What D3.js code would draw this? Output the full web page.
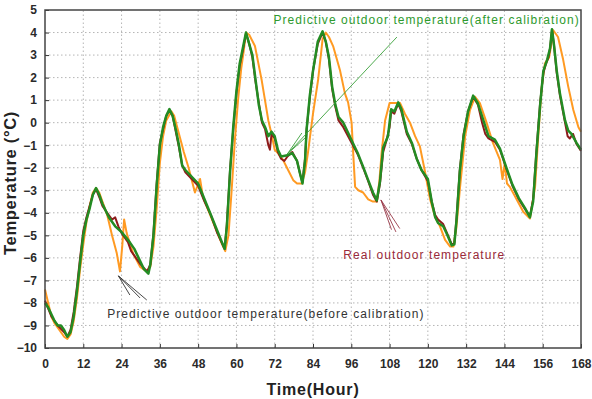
<!DOCTYPE html>
<html>
<head>
<meta charset="utf-8">
<script src="https://cdn.jsdelivr.net/npm/d3@7"></script>
<style>
  body { margin: 0; background: #fff; }
  text { font-family: Arial, "Liberation Sans", sans-serif; }
</style>
</head>
<body>
<div id="chart"></div>
<script>
// tick labels
const xTicks = [0, 12, 24, 36, 48, 60, 72, 84, 96, 108, 120, 132, 144, 156, 168];
const yTicks = [-10, -9, -8, -7, -6, -5, -4, -3, -2, -1, 0, 1, 2, 3, 4, 5];

// predictive outdoor temperature (before calibration) - orange
const beforeHours = [0,1,2,3,4,5,6,7,8,9,10,11,12,13,14,15,16,17,18,19.5,21,22.5,23.5,24.2,24.8,25.6,27.6,29.8,31.9,33,34,35,36,37,38,39.6,40.5,42,43.5,45,47,48.6,49.5,51.5,53.5,55.5,56.5,57.5,58.5,59.5,60.5,61.5,62.3,63,64,65.8,67.9,70,71,72,73,74.6,76.2,77.8,79,80.5,81.5,82.4,84,85.6,87,88,89,90.3,92.5,94,95,96.1,96.6,97.2,98.2,99.7,101.3,102.8,104,104.8,105.5,106.6,108,109.6,111.3,112.8,114.4,116,117.5,119,120.7,122.3,123.8,125.4,127,128,128.9,130.1,131.7,133.2,134.8,136.3,138.4,140.4,142.6,143.4,144.1,144.8,145.7,147.8,149.9,152,153.6,154.6,155.7,156.7,158,158.6,159.3,160.8,162.4,164,165.6,167.2,168];
const beforeTemp = [-7.4,-8.0,-8.6,-8.9,-9.1,-9.3,-9.5,-9.6,-9.4,-8.8,-7.8,-6.5,-5.4,-4.4,-3.7,-3.1,-2.9,-3.1,-3.5,-4.1,-5.0,-5.8,-6.6,-5.5,-4.3,-4.9,-5.8,-6.4,-6.6,-6.4,-5.5,-3.8,-1.8,-0.6,0.1,0.5,0.3,-0.5,-1.3,-2.0,-3.1,-2.5,-3.3,-4.0,-4.7,-5.4,-5.7,-5.0,-3.0,-0.8,1.0,2.4,3.2,4.0,3.9,3.4,1.9,0.1,-0.5,-1.2,-1.35,-1.65,-2.1,-2.55,-2.7,-2.7,-2.2,-1.35,0.4,1.9,3.7,4.0,3.8,3.4,2.3,1.3,0.9,0.0,-1.35,-2.85,-3.0,-3.1,-3.4,-3.5,-3.5,-2.6,-1.35,0.1,0.87,0.87,0.87,0.4,0.0,-0.6,-1.05,-2.1,-3.4,-4.2,-4.6,-5.2,-5.5,-5.5,-4.7,-2.85,-0.6,0.56,1.15,0.87,0.0,-0.9,-1.65,-2.5,-1.8,-2.7,-2.85,-3.4,-3.95,-4.25,-2.85,-0.6,1.6,2.63,2.9,3.4,4.1,3.8,2.8,1.6,0.56,-0.2,-0.4];

// real outdoor temperature - dark red
const realHours = [0,2,4,6,7,8,9,10,11,12,13,14,15,16,17,18,20,21,22,23,24,26,27,28,30,32,33,34,35,36,37,38,39,40,41,42,43,44,46,48,50,52,54,56.3,57,58,59,60,61,62,63,64,65,66,67,68,69,70,70.5,71,72,73,74,75,76,77.5,79,80,80.7,81.5,82,83,84,85.5,87,88,89,90,91,92,93.5,95,96.5,98,99.7,101.3,102.8,104,105,106,107,108,108.5,109.5,110.7,111.7,113.4,115,116.5,118,120,121.2,122.3,123.2,124.8,126,127.5,128.3,129,130,131.2,132.6,134.2,135.7,137,138,139,141,142.6,144.5,146.5,148.5,150.5,152,153,154,155.2,156.2,157,157.8,158.3,158.9,159.5,160.4,161.4,163,163.8,164.5,165.5,166.6,168];
const realTemp = [-7.9,-8.6,-9.0,-9.3,-9.5,-9.2,-8.4,-7.3,-6.0,-4.8,-4.2,-3.7,-3.2,-2.95,-3.3,-3.7,-4.1,-4.3,-4.2,-4.6,-4.9,-5.3,-5.7,-5.9,-6.3,-6.6,-6.3,-4.9,-2.7,-0.9,-0.3,0.3,0.55,0.3,-0.4,-1.1,-1.9,-2.2,-2.5,-2.8,-3.5,-4.1,-4.9,-5.6,-4.5,-2.1,-0.3,1.3,2.5,3.2,3.95,3.5,2.9,1.8,0.9,0.0,-0.3,-1.0,-1.2,-0.5,-0.7,-1.3,-1.6,-1.7,-1.5,-1.3,-1.7,-2.3,-2.65,-1.6,-0.3,1.1,2.3,3.5,4.0,3.6,2.8,1.5,0.7,0.1,-0.2,-0.6,-1.0,-1.4,-2.0,-2.6,-3.2,-3.5,-2.7,-1.3,-0.8,-0.2,0.5,0.4,0.85,0.5,-0.5,-0.95,-1.6,-2.1,-2.6,-3.5,-4.1,-4.3,-4.5,-4.9,-5.4,-5.35,-4.2,-2.1,-0.5,0.5,1.15,0.8,0.0,-0.5,-0.7,-0.85,-1.2,-2.0,-2.8,-3.4,-3.85,-4.15,-3.4,-1.3,0.9,2.2,2.6,2.9,3.3,4.1,3.5,2.2,1.2,0.0,-0.6,-0.7,-0.5,-0.95,-1.25];

// predictive outdoor temperature (after calibration) - green
const afterHours = [0,1,2,3,4,5,6,7,8,9,10,11,12,13,14,15,16,17,18,20,22,24,26,28,30,31,32.4,33,34,35,36,37,38,39,40,41,42,43,44,46,48,50,52,54,56.3,57,58,59,60,61,62,63,64,65,66,67,68,69,70,71,72,73,74,76,77.5,79,80,80.7,81.5,82,83,84,85.5,87,88,89,90,91,92,93.5,95,96.5,98,99.7,101.3,102.8,104,105,106,107.5,108.5,109.5,110.7,111.7,113.4,115,116.5,118,120,121.2,122.3,123.2,124.8,126,127.5,128.3,129,130,131.2,132.6,134.2,135.7,137.4,139,141,142.6,144.5,146.5,148.5,150.5,152,153,154,155.2,156.2,157.4,158.3,158.9,159.5,160.4,161.4,163,164,165,166.6,168];
const afterTemp = [-8.0,-8.2,-8.5,-8.8,-9.0,-9.0,-9.2,-9.5,-9.3,-8.6,-7.5,-6.2,-5.0,-4.3,-3.8,-3.2,-2.9,-3.2,-3.6,-4.2,-4.6,-4.85,-5.2,-5.6,-6.2,-6.5,-6.7,-6.3,-5.0,-2.8,-1.0,-0.2,0.3,0.6,0.3,-0.3,-1.0,-1.9,-2.1,-2.4,-2.7,-3.4,-4.1,-4.8,-5.6,-4.6,-2.2,-0.2,1.4,2.6,3.3,4.0,3.5,3.0,1.9,0.8,0.1,-0.2,-0.6,-0.4,-0.6,-1.2,-1.5,-1.45,-1.35,-1.7,-2.3,-2.7,-1.7,-0.3,1.2,2.3,3.6,4.05,3.6,2.9,1.6,0.8,0.25,0.0,-0.45,-0.9,-1.35,-1.95,-2.55,-3.1,-3.45,-2.6,-1.1,-0.6,0.6,0.5,0.9,0.6,-0.4,-0.9,-1.6,-2.1,-2.5,-3.5,-4.2,-4.45,-4.6,-4.95,-5.45,-5.4,-4.3,-2.2,-0.6,0.5,1.2,0.85,0.1,-0.6,-0.75,-1.15,-1.95,-2.75,-3.35,-3.8,-4.2,-3.5,-1.4,0.8,2.3,2.8,3.3,4.15,3.5,2.3,1.3,0.1,-0.35,-0.5,-0.9,-1.2];

const series = [
  {name: "before", hours: beforeHours, temp: beforeTemp, color: "#ff9a22", width: 2},
  {name: "real", hours: realHours, temp: realTemp, color: "#8e1b1b", width: 2},
  {name: "after", hours: afterHours, temp: afterTemp, color: "#238c23", width: 2.5}
];

const width = 592;
const height = 399;
const margin = {top: 10, right: 11, bottom: 51, left: 45};

// scales in page pixels
const x = d3.scaleLinear().domain([0, 168]).range([margin.left, width - margin.right]);
const y = d3.scaleLinear().domain([-10, 5]).range([height - margin.bottom, margin.top]);

const svg = d3.select("#chart")
  .append("svg")
  .attr("width", width)
  .attr("height", height);

// dotted grid
svg.append("g")
  .selectAll("line")
  .data(xTicks.slice(1, -1))
  .join("line")
  .attr("x1", d => x(d)).attr("x2", d => x(d))
  .attr("y1", y(-10)).attr("y2", y(5))
  .attr("stroke", "#b5b5b5")
  .attr("stroke-dasharray", "1.5,2.5");

svg.append("g")
  .selectAll("line")
  .data(yTicks.slice(1, -1))
  .join("line")
  .attr("x1", x(0)).attr("x2", x(168))
  .attr("y1", d => y(d)).attr("y2", d => y(d))
  .attr("stroke", "#b5b5b5")
  .attr("stroke-dasharray", "1.5,2.5");

// axes (ticks inside)
const xAxis = d3.axisBottom(x).tickValues(xTicks).tickSizeInner(-4).tickSizeOuter(0).tickPadding(11);
const yAxis = d3.axisLeft(y).tickValues(yTicks).tickSizeInner(-4).tickSizeOuter(0).tickPadding(8);

const gx = svg.append("g")
  .attr("transform", `translate(0, ${y(-10)})`)
  .call(xAxis);
const gy = svg.append("g")
  .attr("transform", `translate(${x(0)}, 0)`)
  .call(yAxis);

[gx, gy].forEach(g => {
  g.selectAll("text")
    .style("font-size", "12px")
    .style("font-weight", "bold")
    .attr("fill", "#2a2a2a");
  g.select(".domain").remove();
  g.selectAll(".tick line").attr("stroke", "#333");
});

// lines
const line = d3.line()
  .x(d => x(d[0]))
  .y(d => y(d[1]));

series.forEach(s => {
  svg.append("path")
    .datum(d3.zip(s.hours, s.temp))
    .attr("fill", "none")
    .attr("stroke", s.color)
    .attr("stroke-width", s.width)
    .attr("stroke-linejoin", "round")
    .attr("d", line);
});

// frame
svg.append("rect")
  .attr("x", x(0)).attr("y", y(5))
  .attr("width", x(168) - x(0))
  .attr("height", y(-10) - y(5))
  .attr("fill", "none")
  .attr("stroke", "#444")
  .attr("stroke-width", 1.5);

// annotations
function arrow(tip, ends, color) {
  ends.forEach(e => {
    svg.append("line")
      .attr("x1", x(tip[0])).attr("y1", y(tip[1]))
      .attr("x2", x(e[0])).attr("y2", y(e[1]))
      .attr("stroke", color)
      .attr("stroke-width", 0.9);
  });
}

function note(h, v, txt, color) {
  svg.append("text")
    .attr("x", x(h)).attr("y", y(v))
    .attr("fill", color)
    .style("font-size", "12px")
    .style("letter-spacing", "1.05px")
    .text(txt);
}

// after calibration
arrow([75.9, -1.4], [[110.3, 3.8], [80.5, -0.46], [81.5, -0.68]], "#3aa03a");
note(71.6, 4.38, "Predictive outdoor temperature(after calibration)", "#2e9a2e");

// real
arrow([105.3, -3.43], [[108.6, -4.75], [110, -4.85], [111.2, -4.7]], "#9a3a4a");
note(93.5, -6.05, "Real outdoor temperature", "#9a2a3a");

// before calibration
arrow([23, -6.8], [[31.9, -7.87], [26.6, -7.65], [29.8, -7.78]], "#333");
note(19.5, -8.68, "Predictive outdoor temperature(before calibration)", "#333");

// axis titles
svg.append("text")
  .attr("x", (x(0) + x(168)) / 2)
  .attr("y", 395)
  .attr("text-anchor", "middle")
  .style("font-size", "16px")
  .style("font-weight", "bold")
  .style("letter-spacing", "0.8px")
  .attr("fill", "#222")
  .text("Time(Hour)");

svg.append("text")
  .attr("transform", `translate(16, 183) rotate(-90)`)
  .attr("text-anchor", "middle")
  .style("font-size", "16.5px")
  .style("font-weight", "bold")
  .style("letter-spacing", "0.7px")
  .attr("fill", "#222")
  .text("Temperature (°C)");
</script>
</body>
</html>
